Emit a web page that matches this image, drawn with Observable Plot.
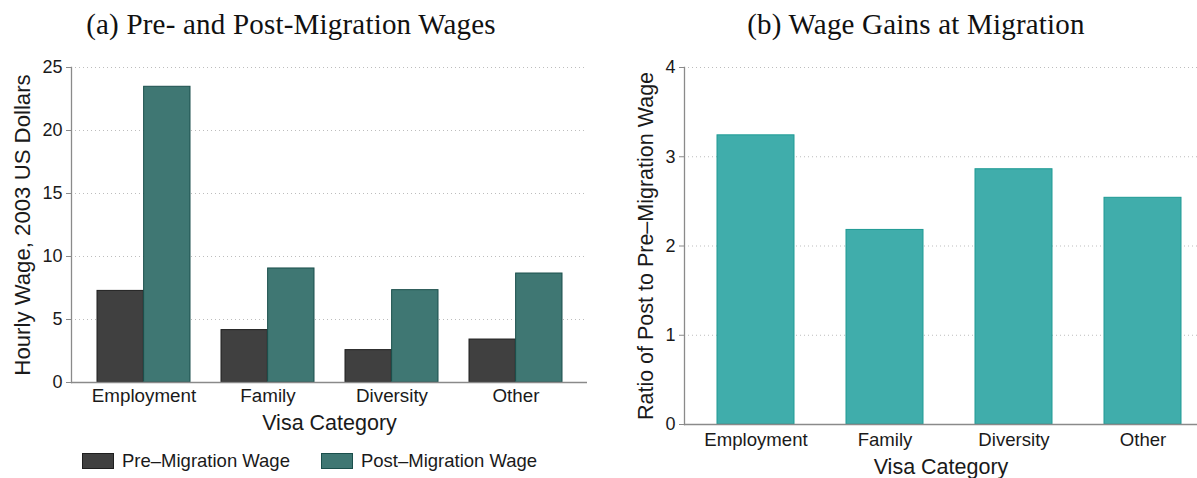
<!DOCTYPE html>
<html>
<head>
<meta charset="utf-8">
<script src="https://cdn.jsdelivr.net/npm/d3@7"></script>
<script src="https://cdn.jsdelivr.net/npm/@observablehq/plot@0.6"></script>
<style>
  html, body { margin: 0; padding: 0; background: #fff; }
  #root { position: relative; width: 1197px; height: 478px; overflow: hidden; font-family: "Liberation Sans", Arial, sans-serif; color: #1a1a1a; }
  .panel { position: absolute; top: 0; }
  .title { position: absolute; top: 10px; font-family: "Liberation Serif", "DejaVu Serif", serif; font-size: 29px; line-height: 29px; letter-spacing: 0.2px; white-space: nowrap; transform: translateX(-50%); color: #111; }
  .legend { position: absolute; top: 452px; display: flex; align-items: center; font-size: 18.5px; line-height: 18px; white-space: nowrap; }
  .sw { display: inline-block; width: 32px; height: 16px; box-sizing: border-box; margin-right: 8px; }
</style>
</head>
<body>
<div id="root"></div>
<script>
const categories = ["Employment", "Family", "Diversity", "Other"];
const preWage = [7.27, 4.16, 2.57, 3.41];
const postWage = [23.47, 9.05, 7.33, 8.65];
const ratio = [3.24, 2.18, 2.86, 2.54];
const yTicksA = [0, 5, 10, 15, 20, 25];
const yTicksB = [0, 1, 2, 3, 4];
const gridA = [5, 10, 15, 20, 25];
const gridB = [1, 2, 3, 4];
const seriesNames = ["Pre\u2013Migration Wage", "Post\u2013Migration Wage"];
const titleA = "(a) Pre- and Post-Migration Wages";
const titleB = "(b) Wage Gains at Migration";
const yLabelA = "Hourly Wage, 2003 US Dollars";
const yLabelB = "Ratio of Post to Pre\u2013Migration Wage";
const xLabel = "Visa Category";

const colPre = "#404040", colPreStroke = "#1f1f1f";
const colPost = "#3f7773", colPostStroke = "#1b4f4c";
const colRatio = "#40adab", colRatioStroke = "#1e9a94";
const axisGray = "#8a8a8a";
const gridGray = "#bdbdbd";
const font = "Liberation Sans, Arial, sans-serif";
const fmt = d => String(d);

const rowsA = categories.map((c, i) => ({cat: c, pre: preWage[i], post: postWage[i]}));
const rowsB = categories.map((c, i) => ({cat: c, ratio: ratio[i]}));

const root = document.getElementById("root");

// ---- Panel A ----
const xA = {type: "band", domain: categories, range: [71, 587], paddingInner: 0.25, paddingOuter: 0.2};
const bwA = Plot.scale({x: xA}).bandwidth;
const half = bwA / 2;

const plotA = Plot.plot({
  width: 598, height: 478,
  marginLeft: 71, marginRight: 11, marginTop: 67, marginBottom: 96,
  style: {fontFamily: font, color: "#1a1a1a", background: "transparent", overflow: "visible"},
  x: {...xA, axis: null},
  y: {domain: [0, 25], axis: null},
  marks: [
    Plot.gridY(gridA, {stroke: gridGray, strokeOpacity: 1, strokeDasharray: "1,3"}),
    Plot.barY(rowsA, {x: "cat", y: "pre", fill: colPre, stroke: colPreStroke, strokeWidth: 1, insetRight: half}),
    Plot.barY(rowsA, {x: "cat", y: "post", fill: colPost, stroke: colPostStroke, strokeWidth: 1, insetLeft: half}),
    Plot.ruleY([0], {stroke: axisGray, strokeWidth: 1.3}),
    Plot.frame({anchor: "left", stroke: axisGray, strokeWidth: 1.3}),
    Plot.axisY({ticks: yTicksA, tickFormat: fmt, tickSize: 5, tickPadding: 4, fontSize: 18, label: null, stroke: axisGray, fill: "#1a1a1a"}),
    Plot.axisX({tickSize: 0, tickPadding: 6, fontSize: 18.8, label: null, fill: "#1a1a1a"}),
    Plot.text([xLabel], {text: d => d, frameAnchor: "bottom", dy: 47, fontSize: 21.5, fill: "#1a1a1a"}),
    Plot.text([yLabelA], {text: d => d, frameAnchor: "left", textAnchor: "middle", rotate: -90, dx: -49, fontSize: 22.2, fill: "#1a1a1a"})
  ]
});
plotA.classList.add("panel");
plotA.style.left = "0px";
root.appendChild(plotA);

// ---- Panel B ----
const plotB = Plot.plot({
  width: 599, height: 478,
  marginLeft: 86, marginRight: 0, marginTop: 67, marginBottom: 54,
  style: {fontFamily: font, color: "#1a1a1a", background: "transparent"},
  x: {type: "band", domain: categories, range: [86.4, 615], paddingInner: 0.4, paddingOuter: 0.243, axis: null},
  y: {domain: [0, 4], axis: null},
  marks: [
    Plot.gridY(gridB, {stroke: gridGray, strokeOpacity: 1, strokeDasharray: "1,3"}),
    Plot.barY(rowsB, {x: "cat", y: "ratio", fill: colRatio, stroke: colRatioStroke, strokeWidth: 1}),
    Plot.ruleY([0], {stroke: axisGray, strokeWidth: 1.3}),
    Plot.frame({anchor: "left", stroke: axisGray, strokeWidth: 1.3}),
    Plot.axisY({ticks: yTicksB, tickFormat: fmt, tickSize: 5, tickPadding: 4, fontSize: 18, label: null, stroke: axisGray, fill: "#1a1a1a"}),
    Plot.axisX({tickSize: 0, tickPadding: 8, fontSize: 18.6, label: null, fill: "#1a1a1a"}),
    Plot.text([xLabel], {text: d => d, frameAnchor: "bottom", dy: 49, fontSize: 21.5, fill: "#1a1a1a"}),
    Plot.text([yLabelB], {text: d => d, frameAnchor: "left", textAnchor: "middle", rotate: -90, dx: -38, fontSize: 21.5, fill: "#1a1a1a"})
  ]
});
plotB.classList.add("panel");
plotB.style.left = "598px";
root.appendChild(plotB);

// ---- Titles ----
function addTitle(txt, cx) {
  const d = document.createElement("div");
  d.className = "title";
  d.style.left = cx + "px";
  d.textContent = txt;
  root.appendChild(d);
}
addTitle(titleA, 291);
addTitle(titleB, 916);

// ---- Legend ----
const legend = document.createElement("div");
legend.className = "legend";
legend.style.left = "82px";
const legendItems = [
  {name: seriesNames[0], fill: colPre, stroke: colPreStroke},
  {name: seriesNames[1], fill: colPost, stroke: colPostStroke}
];
legendItems.forEach((it, i) => {
  const item = document.createElement("span");
  item.style.display = "inline-flex";
  item.style.alignItems = "center";
  if (i > 0) item.style.marginLeft = "31px";
  const sw = document.createElement("span");
  sw.className = "sw";
  sw.style.background = it.fill;
  sw.style.border = "1px solid " + it.stroke;
  const t = document.createElement("span");
  t.textContent = it.name;
  item.appendChild(sw);
  item.appendChild(t);
  legend.appendChild(item);
});
root.appendChild(legend);
</script>
</body>
</html>
